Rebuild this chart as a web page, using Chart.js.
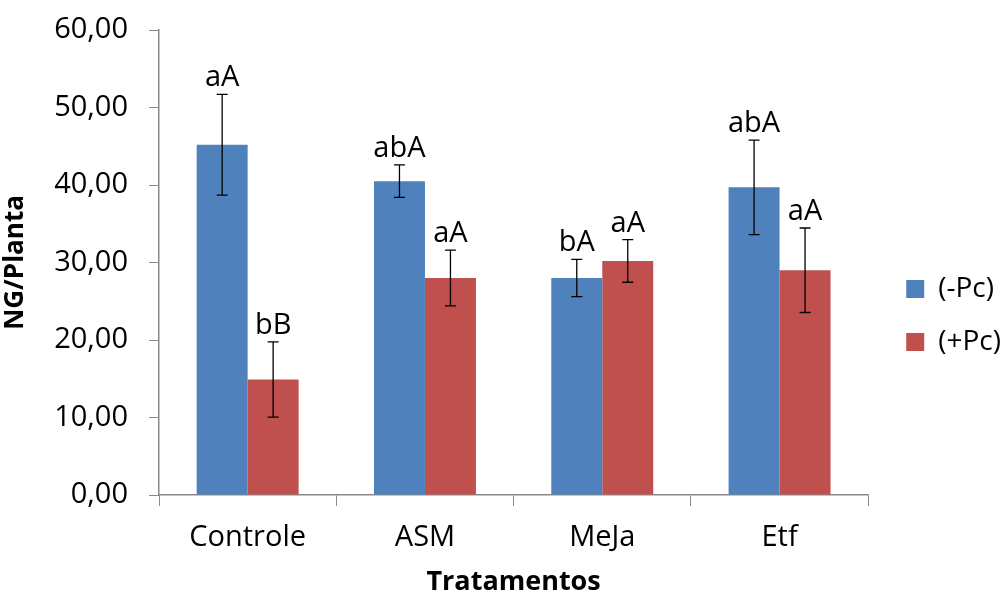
<!DOCTYPE html>
<html lang="pt-BR">
<head>
<meta charset="utf-8">
<title>NG/Planta por tratamento</title>
<script src="https://cdn.jsdelivr.net/npm/chart.js@4.4.1/dist/chart.umd.min.js"></script>
<style>
  html, body { margin: 0; padding: 0; background: #fff; }
  canvas { display: block; }
</style>
</head>
<body>
<canvas id="chartNG" width="1007" height="599"></canvas>
<script>
// Dados
const tratamentos = ['Controle', 'ASM', 'MeJa', 'Etf'];
const semPc = [45.2, 40.5, 28.0, 39.7];
const comPc = [14.9, 28.0, 30.2, 29.0];
const erroSemPc = [6.5, 2.1, 2.4, 6.1];
const erroComPc = [4.85, 3.6, 2.75, 5.45];
const letrasSemPc = ['aA', 'abA', 'bA', 'abA'];
const letrasComPc = ['bB', 'aA', 'aA', 'aA'];
const yMin = 0;
const yMax = 60;
const yPasso = 10;

const FONTE = "'Open Sans', sans-serif";
const COR_EIXO = '#898989';

// Plugin: barras de erro + letras de significância
const errorBarsPlugin = {
  id: 'errorBars',
  afterDatasetsDraw(chart) {
    const ctx = chart.ctx;
    const yScale = chart.scales.y;
    chart.data.datasets.forEach((ds, i) => {
      const meta = chart.getDatasetMeta(i);
      meta.data.forEach((bar, j) => {
        const v = ds.data[j];
        const e = ds.erros[j];
        const yTop = yScale.getPixelForValue(v + e);
        const yBot = yScale.getPixelForValue(v - e);
        const x = bar.x;
        ctx.save();
        ctx.strokeStyle = '#000';
        ctx.lineWidth = 1.3;
        ctx.beginPath();
        ctx.moveTo(x, yTop); ctx.lineTo(x, yBot);
        ctx.moveTo(x - 5.5, yTop); ctx.lineTo(x + 5.5, yTop);
        ctx.moveTo(x - 5.5, yBot); ctx.lineTo(x + 5.5, yBot);
        ctx.stroke();
        // letras
        ctx.fillStyle = '#000';
        ctx.font = '29px ' + FONTE;
        ctx.textAlign = 'center';
        ctx.textBaseline = 'alphabetic';
        ctx.fillText(ds.letras[j], x, yTop - 8);
        ctx.restore();
      });
    });
  }
};

// Plugin: desloca a legenda (como no Excel, fica mais abaixo e afastada)
const legendOffsetPlugin = {
  id: 'legendOffset',
  afterLayout(chart) {
    const lg = chart.legend;
    if (!lg) return;
    const dx = chart.chartArea.right + 13 - lg.left;
    const dy = chart.chartArea.top + 220 - lg.top;
    lg.left += dx; lg.right += dx;
    lg.top += dy; lg.bottom += dy;
  }
};

const ctx = document.getElementById('chartNG').getContext('2d');
const chart = new Chart(ctx, {
  type: 'bar',
  data: {
    labels: tratamentos,
    datasets: [
      {
        label: '(-Pc)',
        data: semPc,
        erros: erroSemPc,
        letras: letrasSemPc,
        backgroundColor: '#4F81BD'
      },
      {
        label: '(+Pc)',
        data: comPc,
        erros: erroComPc,
        letras: letrasComPc,
        backgroundColor: '#C0504D'
      }
    ]
  },
  options: {
    responsive: false,
    animation: false,
    categoryPercentage: 0.575,
    barPercentage: 1.0,
    layout: {
      padding: { top: 0, left: 0, right: 9, bottom: 0 }
    },
    plugins: {
      tooltip: { enabled: false },
      legend: {
        position: 'right',
        align: 'start',
        labels: {
          color: '#000',
          font: { family: FONTE, size: 28 },
          boxWidth: 18,
          boxHeight: 18,
          padding: 25
        }
      }
    },
    scales: {
      x: {
        afterFit: s => { s.height = 104; },
        grid: {
          offset: true,
          drawOnChartArea: false,
          color: COR_EIXO,
          tickLength: 11
        },
        border: { color: COR_EIXO, width: 1.5 },
        ticks: {
          color: '#000',
          font: { family: FONTE, size: 29 },
          padding: 14
        },
        title: {
          display: true,
          text: 'Tratamentos',
          color: '#000',
          font: { family: FONTE, size: 27, weight: 'bold' },
          padding: { top: 4, bottom: 0 }
        }
      },
      y: {
        min: yMin,
        max: yMax,
        afterFit: s => {
          s.width = 159;
          s.paddingTop = 30;
        },
        grid: {
          drawOnChartArea: false,
          color: COR_EIXO,
          tickLength: 10
        },
        border: { color: COR_EIXO, width: 1.5 },
        ticks: {
          stepSize: yPasso,
          color: '#000',
          font: { family: FONTE, size: 29 },
          padding: 21,
          callback: v => v.toFixed(2).replace('.', ',')
        },
        title: {
          display: true,
          text: 'NG/Planta',
          color: '#000',
          font: { family: FONTE, size: 26, weight: 'bold' },
          padding: { top: 0, bottom: 4 }
        }
      }
    }
  },
  plugins: [errorBarsPlugin, legendOffsetPlugin]
});
</script>
</body>
</html>
